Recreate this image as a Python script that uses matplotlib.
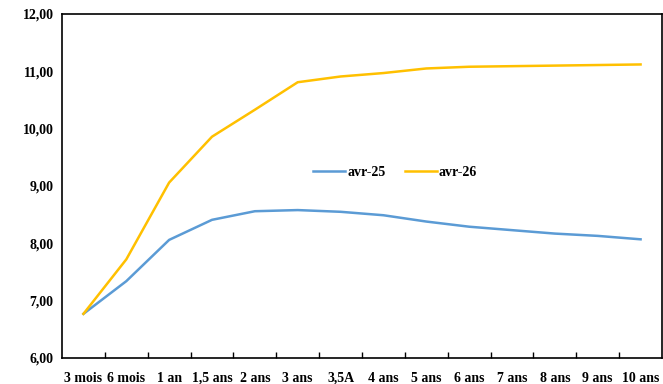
import numpy as np
import matplotlib.pyplot as plt
from matplotlib.ticker import FuncFormatter

plt.rcParams['font.family'] = 'Liberation Serif'
plt.rcParams['font.weight'] = 'bold'

categories = ["3 mois", "6 mois", "1 an", "1,5 ans", "2 ans", "3 ans", "3,5A",
              "4 ans", "5 ans", "6 ans", "7 ans", "8 ans", "9 ans", "10 ans"]
avr25 = [6.77, 7.34, 8.06, 8.41, 8.56, 8.58, 8.55, 8.49, 8.38, 8.29, 8.23, 8.17, 8.13, 8.07]
avr26 = [6.77, 7.72, 9.06, 9.86, 10.33, 10.81, 10.91, 10.97, 11.05, 11.08, 11.09, 11.10, 11.11, 11.12]

fig = plt.figure(figsize=(6.63, 3.84), dpi=100)
ax = fig.add_axes([62/663, 1 - 358/384, 600/663, 344/384])

x = np.arange(len(categories))
ax.plot(x, avr25, color="#5B9BD5", lw=1.8, label="avr-25")
ax.plot(x, avr26, color="#FFC000", lw=1.8, label="avr-26")

ax.set_xlim(-0.5, len(categories) - 0.5)
ax.set_ylim(6, 12)
ax.set_yticks(np.arange(6, 12.01, 1))
ax.yaxis.set_major_formatter(FuncFormatter(lambda v, p: f"{v:.2f}".replace(".", ",")))
ax.tick_params(axis="y", length=0, labelsize=10, pad=6)

ax.set_xticks(x)
ax.set_xticklabels(categories)
ax.set_xticks(np.arange(0.5, len(categories) - 1, 1), minor=True)
ax.tick_params(axis="x", which="major", length=0, labelsize=10, pad=10)
ax.tick_params(axis="x", which="minor", length=4, direction="in", width=1)

for s in ax.spines.values():
    s.set_linewidth(1.2)

ax.legend(loc="center", bbox_to_anchor=(0.555, 0.54), ncol=2, frameon=False,
          fontsize=10, handlelength=2.3, columnspacing=1.4, handletextpad=0.15)

fig.savefig("out.png", dpi=100)
